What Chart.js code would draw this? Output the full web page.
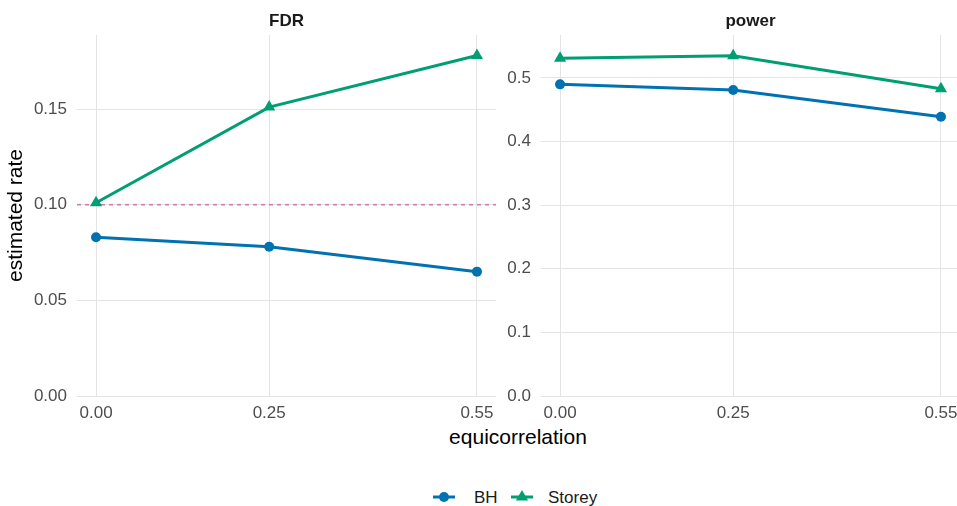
<!DOCTYPE html>
<html>
<head>
<meta charset="utf-8">
<script src="https://cdn.jsdelivr.net/npm/chart.js@4.4.1/dist/chart.umd.min.js"></script>
<style>
  html, body { margin: 0; padding: 0; background: #fff; }
  body { width: 957px; height: 506px; overflow: hidden; position: relative;
         font-family: "Liberation Sans", Arial, sans-serif; }
  canvas { position: absolute; top: 0; }
  #fdr { left: 0; }
  #power { left: 500px; }
  #xtitle { position: absolute; left: 368px; width: 300px; top: 426px; text-align: center;
            font-size: 21px; line-height: 21px; color: #000; }
  .lg-key { position: absolute; top: 490px; }
  .lg-text { position: absolute; top: 488.5px; font-size: 17px; line-height: 17px; color: #1a1a1a; }
</style>
</head>
<body>
<canvas id="fdr" width="510" height="420"></canvas>
<canvas id="power" width="480" height="420"></canvas>
<div id="xtitle">equicorrelation</div>
<div id="legend"></div>
<script>
// data
const equicorr = [0, 0.25, 0.55];
const seriesNames = ['BH', 'Storey'];
const fdrBH = [0.083, 0.078, 0.065];
const fdrStorey = [0.101, 0.151, 0.178];
const powerBH = [0.490, 0.481, 0.439];
const powerStorey = [0.531, 0.535, 0.483];
const fdrTarget = 0.1;

const xTicks = [0, 0.25, 0.55];
const fdrYTicks = [0, 0.05, 0.10, 0.15];
const powerYTicks = [0, 0.1, 0.2, 0.3, 0.4, 0.5];

const FONT = '"Liberation Sans", Arial, sans-serif';
const BLUE = '#0072B2', GREEN = '#009E73', PINK = '#CC79A7';
const GRID = '#e4e4e4', TICK = '#4d4d4d';
const X_MIN = -0.0275;

Chart.defaults.font.family = FONT;

// facet strip label, centred over the plot area
const stripTitle = {
  id: 'stripTitle',
  afterDraw(chart, args, opts) {
    const { ctx, chartArea } = chart;
    ctx.save();
    ctx.font = 'bold 17px ' + FONT;
    ctx.fillStyle = '#1a1a1a';
    ctx.textAlign = 'center';
    ctx.textBaseline = 'alphabetic';
    ctx.fillText(opts.text, (chartArea.left + chartArea.right) / 2, 25.5);
    ctx.restore();
  }
};

function series(label, values, color, style, radius) {
  return {
    label,
    data: values.map((v, i) => ({ x: equicorr[i], y: v })),
    borderColor: color,
    backgroundColor: color,
    borderWidth: 3,
    pointStyle: style,
    pointRadius: radius,
    pointBorderWidth: 0,
    pointBackgroundColor: color,
    tension: 0
  };
}

function makePanel(id, strip, datasets, p) {
  const canvas = document.getElementById(id);
  return new Chart(canvas, {
    type: 'line',
    data: { datasets },
    plugins: [stripTitle],
    options: {
      responsive: false,
      animation: false,
      layout: { padding: { top: 35, right: p.padRight, bottom: 0, left: 0 } },
      plugins: {
        legend: { display: false },
        tooltip: { enabled: false },
        stripTitle: { text: strip }
      },
      scales: {
        x: {
          type: 'linear',
          min: X_MIN,
          max: p.xMax,
          afterBuildTicks: s => { s.ticks = xTicks.map(v => ({ value: v })); },
          afterFit: s => { s.height = canvas.height - 396; },
          grid: { color: GRID, lineWidth: 1, drawTicks: false },
          border: { display: false },
          ticks: {
            padding: 7, color: TICK, font: { size: 17 },
            maxRotation: 0, autoSkip: false,
            callback: v => v.toFixed(2)
          }
        },
        y: {
          type: 'linear',
          min: 0,
          max: p.yMax,
          afterBuildTicks: s => { s.ticks = p.yTicks.map(v => ({ value: v })); },
          afterFit: s => { s.width = p.yWidth; },
          grid: { color: GRID, lineWidth: 1, drawTicks: false },
          border: { display: false },
          ticks: {
            padding: 10, color: TICK, font: { size: 17 },
            callback: v => v.toFixed(p.digits)
          },
          title: {
            display: !!p.yTitle,
            text: p.yTitle || '',
            color: '#000',
            font: { size: 21 },
            padding: { top: 4, bottom: 0 }
          }
        }
      }
    }
  });
}

const fdrSets = [
  series(seriesNames[0], fdrBH, BLUE, 'circle', 5),
  series(seriesNames[1], fdrStorey, GREEN, 'triangle', 7),
  {
    label: 'target',
    data: [{ x: X_MIN, y: fdrTarget }, { x: 0.5775, y: fdrTarget }],
    borderColor: PINK,
    borderWidth: 1.5,
    borderDash: [4, 4],
    pointRadius: 0
  }
];

makePanel('fdr', 'FDR', fdrSets, {
  xMax: 0.5775, yMax: 0.1887, yTicks: fdrYTicks, digits: 2,
  yWidth: 77, padRight: 510 - 496, yTitle: 'estimated rate'
});

makePanel('power', 'power', [
  series(seriesNames[0], powerBH, BLUE, 'circle', 5),
  series(seriesNames[1], powerStorey, GREEN, 'triangle', 7)
], {
  xMax: 0.5775, yMax: 0.5676, yTicks: powerYTicks, digits: 1,
  yWidth: 41, padRight: 20
});

// legend along the bottom
const legend = document.getElementById('legend');
const keyX = [433, 511];
const textX = [474, 548];
const colors = [BLUE, GREEN];
seriesNames.forEach((name, i) => {
  const marker = i === 0
    ? `<circle cx="11" cy="7" r="5" fill="${colors[i]}"/>`
    : `<polygon points="11,0 17.1,10.5 4.9,10.5" fill="${colors[i]}"/>`;
  legend.insertAdjacentHTML('beforeend',
    `<svg class="lg-key" style="left:${keyX[i]}px" width="22" height="14">` +
    `<line x1="0" y1="7" x2="22" y2="7" stroke="${colors[i]}" stroke-width="3"/>${marker}</svg>` +
    `<span class="lg-text" style="left:${textX[i]}px">${name}</span>`);
});
</script>
</body>
</html>
